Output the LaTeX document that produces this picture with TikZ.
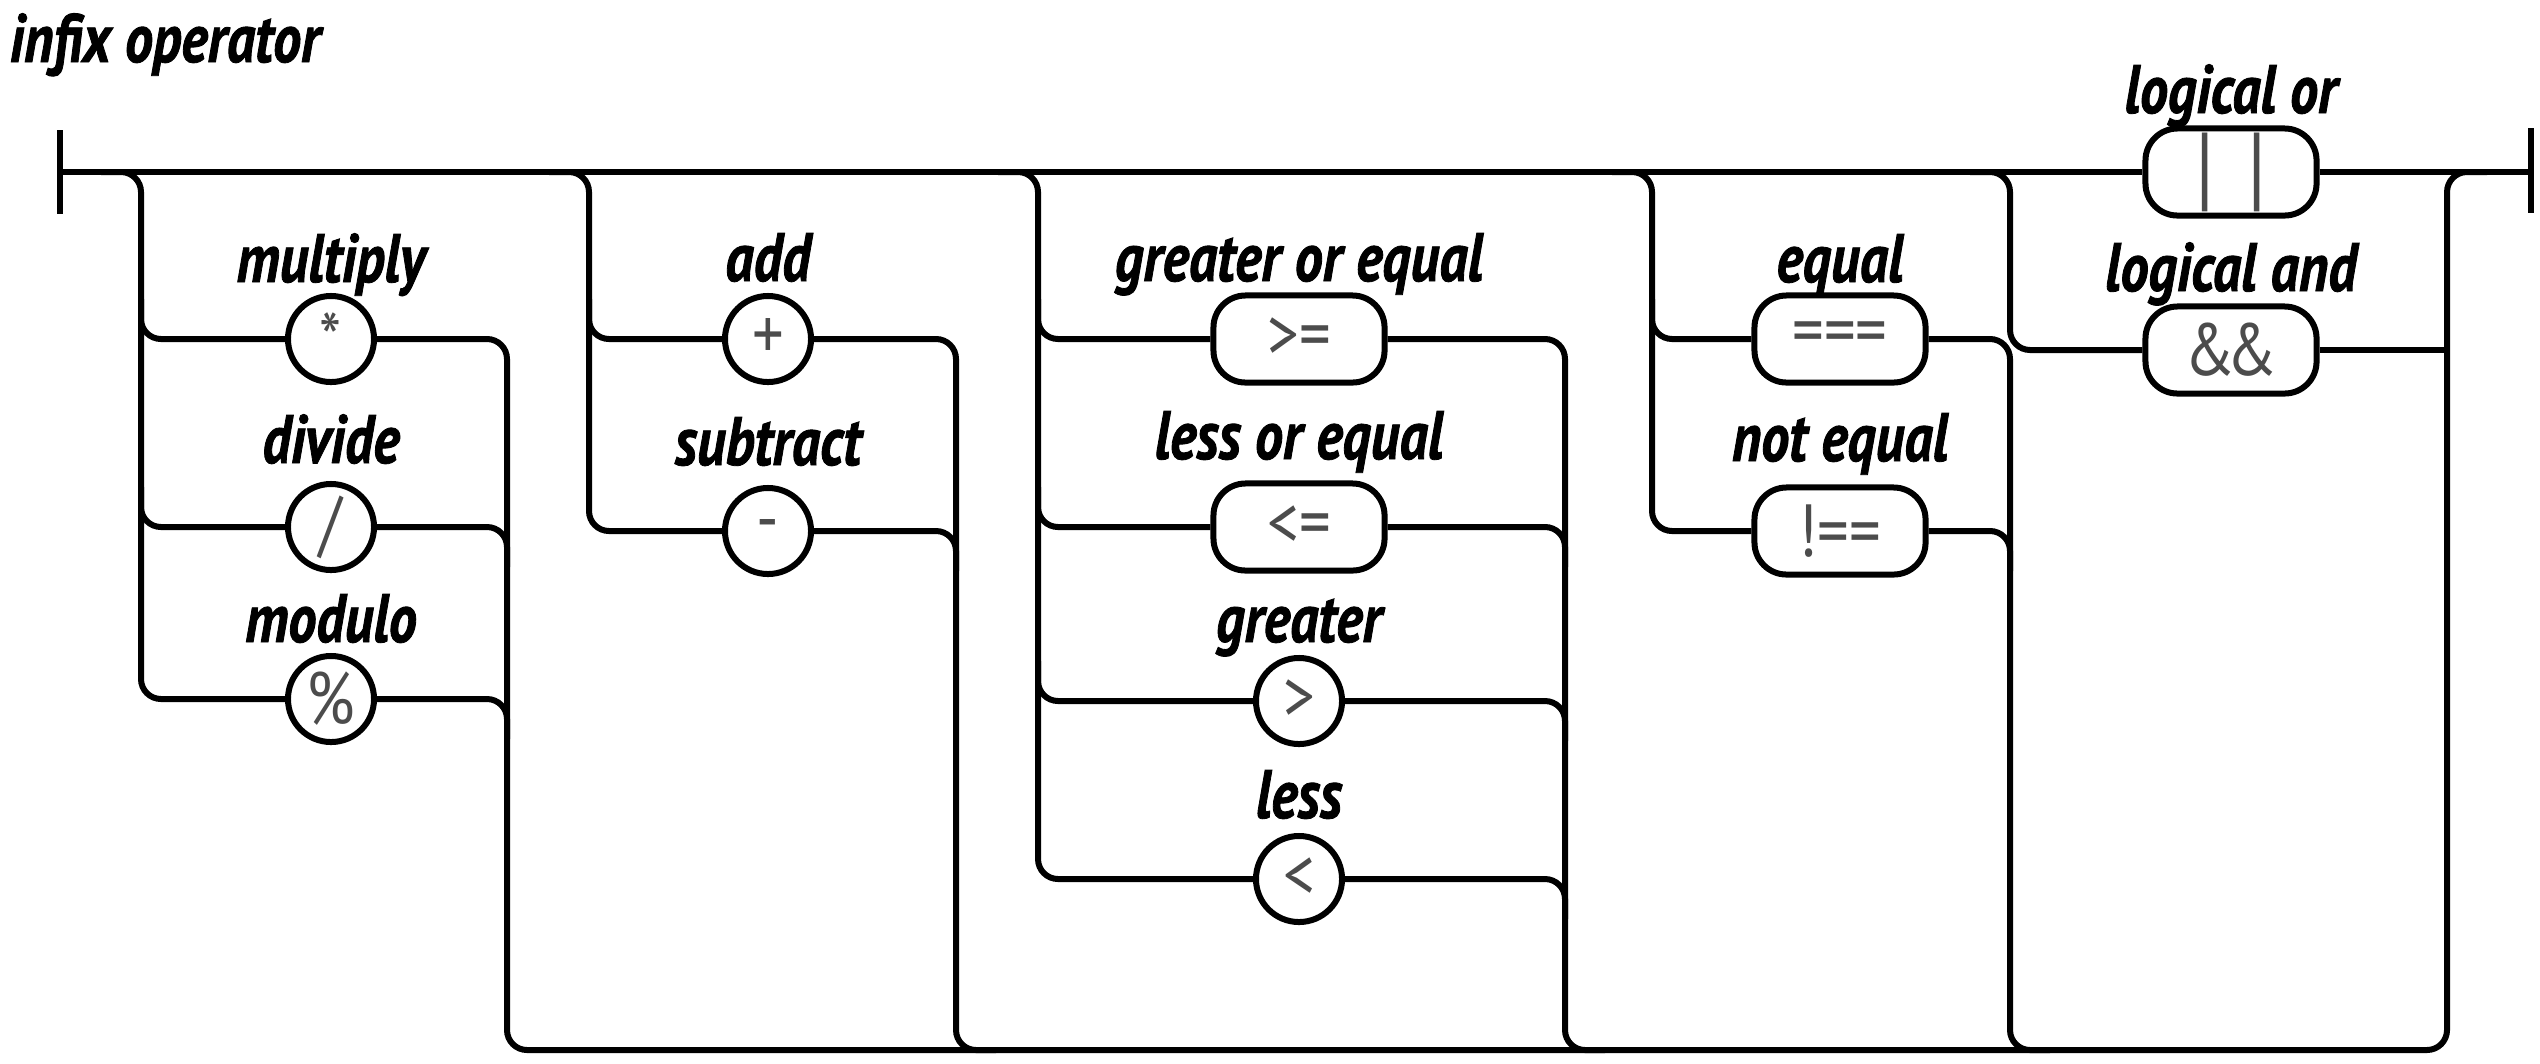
\documentclass[tikz,border=0pt]{standalone}
\usepackage{fontspec}
\setmainfont{PT Sans}
\newfontfamily\lblfont{PT Sans}[FakeStretch=0.82, FakeBold=1.2]
\newfontfamily\symfont{PT Sans}[FakeStretch=0.85]
\usetikzlibrary{calc}
\tikzset{
  rail/.style={line width=0.06cm, rounded corners=0.2cm},
  lbl/.style={font=\lblfont\bfseries\itshape\fontsize{19.5}{22}\selectfont, inner sep=0pt, anchor=base},
  circ/.style={draw, circle, fill=white, line width=0.06cm, minimum size=0.86cm, inner sep=0pt,
    font=\symfont\fontsize{21}{24}\selectfont, text=black!70},
  pill/.style={draw, rectangle, rounded corners=0.32cm, fill=white, line width=0.06cm,
    minimum width=1.71cm, minimum height=0.87cm, inner sep=0pt,
    font=\symfont\fontsize{21}{24}\selectfont, text=black!70},
}
\begin{document}
\begin{tikzpicture}[x=0.01cm,y=-0.01cm]
\useasboundingbox (0,0) rectangle (2540,1063);
% title
\node[lbl, anchor=base west] (title) at (9,62) {infix operator};
% columns
\coordinate (M0) at (60,172); \coordinate (M1) at (2531,172);
\coordinate (g1L) at (141,172); \coordinate (g1R) at (507,172);
\coordinate (g2L) at (589,172); \coordinate (g2R) at (956,172);
\coordinate (g3L) at (1038,172); \coordinate (g3R) at (1565,172);
\coordinate (g4L) at (1652,172); \coordinate (g4R) at (2010,172);
\coordinate (g5L) at (2010,172); \coordinate (g5R) at (2447,172);
\coordinate (bot) at (0,1050);
% terminals
\node[circ] (mul) at (331,339) {*};
\node[circ] (div) at (331,527) {/};
\node[circ] (mod) at (331,699) {\%};
\node[circ] (add) at (768,339) {+};
\node[circ] (sub) at (768,531) {-};
\node[pill] (ge) at (1299,339) {>=};
\node[pill] (le) at (1299,527) {<=};
\node[circ] (gt) at (1299,701) {>};
\node[circ] (lt) at (1299,879) {<};
\node[pill] (eq) at (1840,339) {===};
\node[pill] (ne) at (1840,531) {!==};
\node[pill, font=\symfont\fontsize{27}{30}\selectfont] (or) at (2231,172) {|\kern0.35em|};
\node[pill] (and) at (2231,350) {\&\kern-0.12em\&};
% labels
\node[lbl] (lmul) at (331,282) {multiply};
\node[lbl] (ldiv) at (331,463) {divide};
\node[lbl] (lmod) at (331,642) {modulo};
\node[lbl] (ladd) at (768,281) {add};
\node[lbl] (lsub) at (768,465) {subtract};
\node[lbl] (lge) at (1299,281) {greater or equal};
\node[lbl] (lle) at (1299,459) {less or equal};
\node[lbl] (lgt) at (1299,642) {greater};
\node[lbl] (llt) at (1299,818) {less};
\node[lbl] (leq) at (1840,282) {equal};
\node[lbl] (lne) at (1840,461) {not equal};
\node[lbl] (lor) at (2231,113) {logical or};
\node[lbl] (land) at (2231,291) {logical and};
% main line and bars
\draw[rail] (M0) -- (or) -- (M1);
\draw[rail] ($(M0)+(0,-42)$) -- ($(M0)+(0,42)$);
\draw[rail] ($(M1)+(0,-44)$) -- ($(M1)+(0,41)$);
% group 1
\draw[rail] ($(g1L)+(-40,0)$) -- (g1L) -- (g1L |- mod) -- (mod);
\draw[rail] ($(g1L |- mul)+(0,-40)$) -- (g1L |- mul) -- (mul);
\draw[rail] ($(g1L |- div)+(0,-40)$) -- (g1L |- div) -- (div);
\draw[rail] (mul) -- (g1R |- mul) -- (g1R |- bot) -- (g5R |- bot) -- (g5R) -- ($(g5R)+(40,0)$);
\draw[rail] (div) -- (g1R |- div) -- ($(g1R |- div)+(0,40)$);
\draw[rail] (mod) -- (g1R |- mod) -- ($(g1R |- mod)+(0,40)$);
% group 2
\draw[rail] ($(g2L)+(-40,0)$) -- (g2L) -- (g2L |- sub) -- (sub);
\draw[rail] ($(g2L |- add)+(0,-40)$) -- (g2L |- add) -- (add);
\draw[rail] (add) -- (g2R |- add) -- (g2R |- bot) -- ($(g2R |- bot)+(40,0)$);
\draw[rail] (sub) -- (g2R |- sub) -- ($(g2R |- sub)+(0,40)$);
% group 3
\draw[rail] ($(g3L)+(-40,0)$) -- (g3L) -- (g3L |- lt) -- (lt);
\draw[rail] ($(g3L |- ge)+(0,-40)$) -- (g3L |- ge) -- (ge);
\draw[rail] ($(g3L |- le)+(0,-40)$) -- (g3L |- le) -- (le);
\draw[rail] ($(g3L |- gt)+(0,-40)$) -- (g3L |- gt) -- (gt);
\draw[rail] (ge) -- (g3R |- ge) -- (g3R |- bot) -- ($(g3R |- bot)+(40,0)$);
\draw[rail] (le) -- (g3R |- le) -- ($(g3R |- le)+(0,40)$);
\draw[rail] (gt) -- (g3R |- gt) -- ($(g3R |- gt)+(0,40)$);
\draw[rail] (lt) -- (g3R |- lt) -- ($(g3R |- lt)+(0,40)$);
% group 4
\draw[rail] ($(g4L)+(-40,0)$) -- (g4L) -- (g4L |- ne) -- (ne);
\draw[rail] ($(g4L |- eq)+(0,-40)$) -- (g4L |- eq) -- (eq);
\draw[rail] (eq) -- (g4R |- eq) -- (g4R |- bot) -- ($(g4R |- bot)+(40,0)$);
\draw[rail] (ne) -- (g4R |- ne) -- ($(g4R |- ne)+(0,40)$);
% group 5
\draw[rail] ($(g5L)+(-40,0)$) -- (g5L) -- (g5L |- and) -- (and);
\draw[rail] (and) -- (g5R |- and);
\end{tikzpicture}
\end{document}
